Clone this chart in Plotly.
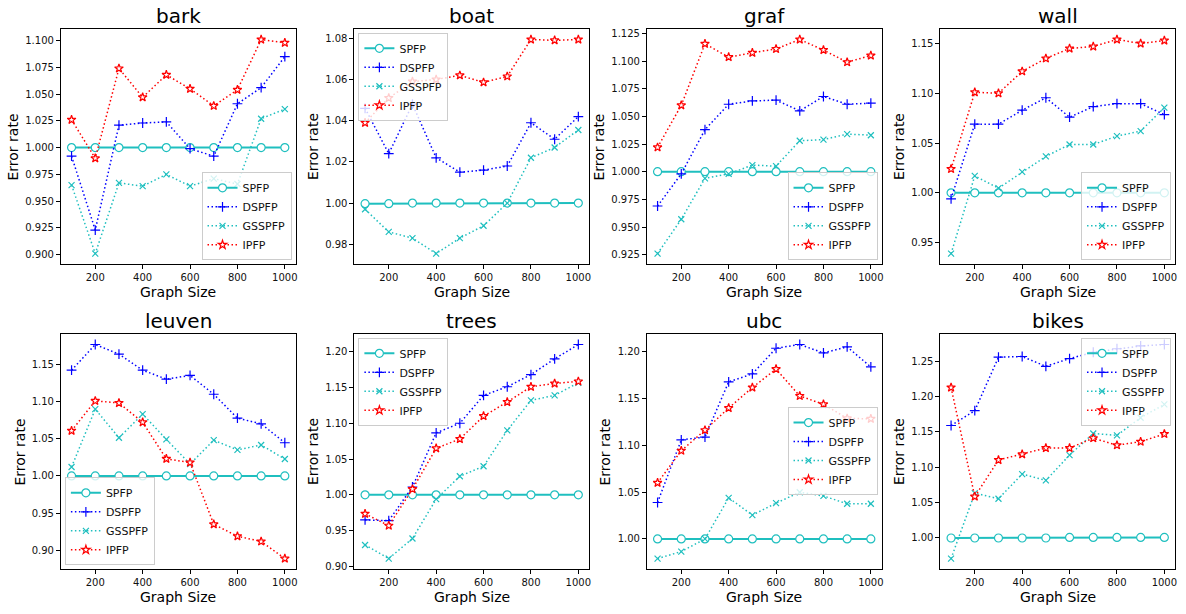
import math
import plotly.graph_objects as go

graph_size = [100, 200, 300, 400, 500, 600, 700, 800, 900, 1000]
methods = ["SPFP", "DSPFP", "GSSPFP", "IPFP"]
datasets = ["bark", "boat", "graf", "wall", "leuven", "trees", "ubc", "bikes"]

bark_spfp = [1.0, 1.0, 1.0, 1.0, 1.0, 1.0, 1.0, 1.0, 1.0, 1.0]
bark_dspfp = [0.992, 0.923, 1.021, 1.023, 1.024, 0.999, 0.992, 1.041, 1.056, 1.085]
bark_gsspfp = [0.965, 0.901, 0.967, 0.964, 0.975, 0.964, 0.971, 0.966, 1.027, 1.036]
bark_ipfp = [1.026, 0.990, 1.074, 1.047, 1.068, 1.055, 1.039, 1.054, 1.101, 1.098]

boat_spfp = [0.9997, 0.9997, 1.0, 1.0, 1.0, 1.0, 1.0, 1.0, 1.0, 1.0]
boat_dspfp = [1.046, 1.024, 1.048, 1.022, 1.015, 1.016, 1.018, 1.039, 1.031, 1.042]
boat_gsspfp = [0.997, 0.986, 0.983, 0.9755, 0.983, 0.989, 1.000, 1.022, 1.027, 1.0355]
boat_ipfp = [1.039, 1.051, 1.059, 1.060, 1.062, 1.0586, 1.0615, 1.0794, 1.079, 1.0794]

graf_spfp = [1.0, 1.0, 1.0, 1.0, 1.0, 1.0, 1.0, 1.0, 1.0, 1.0]
graf_dspfp = [0.969, 0.998, 1.038, 1.061, 1.064, 1.0647, 1.055, 1.068, 1.061, 1.062]
graf_gsspfp = [0.926, 0.957, 0.994, 0.998, 1.006, 1.005, 1.028, 1.029, 1.034, 1.033]
graf_ipfp = [1.022, 1.060, 1.1156, 1.1036, 1.1075, 1.111, 1.1195, 1.110, 1.099, 1.105]

wall_spfp = [1.0, 1.0, 1.0, 1.0, 1.0, 1.0, 1.0, 1.0, 1.0, 1.0]
wall_dspfp = [0.994, 1.069, 1.069, 1.083, 1.0955, 1.076, 1.0866, 1.0896, 1.0896, 1.0786]
wall_gsspfp = [0.939, 1.017, 1.0047, 1.021, 1.0366, 1.0486, 1.0486, 1.057, 1.062, 1.0856]
wall_ipfp = [1.024, 1.101, 1.100, 1.122, 1.135, 1.145, 1.147, 1.154, 1.150, 1.153]

leuven_spfp = [1.0, 1.0, 1.0, 1.0, 1.0, 1.0, 1.0, 1.0, 1.0, 1.0]
leuven_dspfp = [1.142, 1.1765, 1.1636, 1.142, 1.130, 1.135, 1.1097, 1.0776, 1.070, 1.0446]
leuven_gsspfp = [1.012, 1.0897, 1.0513, 1.083, 1.049, 1.016, 1.048, 1.035, 1.0415, 1.0227]
leuven_ipfp = [1.0607, 1.1008, 1.098, 1.072, 1.023, 1.018, 0.935, 0.919, 0.912, 0.889]

trees_spfp = [1.0, 1.0, 1.0, 1.0, 1.0, 1.0, 1.0, 1.0, 1.0, 1.0]
trees_dspfp = [0.965, 0.964, 1.011, 1.0866, 1.100, 1.139, 1.151, 1.168, 1.190, 1.210]
trees_gsspfp = [0.930, 0.911, 0.939, 0.994, 1.026, 1.040, 1.090, 1.132, 1.139, 1.1565]
trees_ipfp = [0.9736, 0.957, 1.008, 1.065, 1.078, 1.110, 1.1297, 1.151, 1.1556, 1.1585]

ubc_spfp = [1.0, 1.0, 1.0, 1.0, 1.0, 1.0, 1.0, 1.0, 1.0, 1.0]
ubc_dspfp = [1.039, 1.106, 1.109, 1.168, 1.1766, 1.204, 1.208, 1.199, 1.2055, 1.184]
ubc_gsspfp = [0.979, 0.9865, 1.000, 1.044, 1.0255, 1.0383, 1.050, 1.046, 1.0376, 1.0376]
ubc_ipfp = [1.060, 1.0944, 1.1164, 1.140, 1.162, 1.1817, 1.153, 1.144, 1.129, 1.1285]

bikes_spfp = [0.9992, 0.9992, 0.9992, 0.9992, 0.9992, 1.0, 1.0, 1.0, 1.0, 1.0]
bikes_dspfp = [1.159, 1.180, 1.256, 1.257, 1.243, 1.254, 1.263, 1.268, 1.272, 1.274]
bikes_gsspfp = [0.970, 1.063, 1.055, 1.090, 1.081, 1.117, 1.1476, 1.145, 1.170, 1.189]
bikes_ipfp = [1.213, 1.058, 1.110, 1.118, 1.127, 1.127, 1.141, 1.131, 1.136, 1.147]

series = {
    "bark": [bark_spfp, bark_dspfp, bark_gsspfp, bark_ipfp],
    "boat": [boat_spfp, boat_dspfp, boat_gsspfp, boat_ipfp],
    "graf": [graf_spfp, graf_dspfp, graf_gsspfp, graf_ipfp],
    "wall": [wall_spfp, wall_dspfp, wall_gsspfp, wall_ipfp],
    "leuven": [leuven_spfp, leuven_dspfp, leuven_gsspfp, leuven_ipfp],
    "trees": [trees_spfp, trees_dspfp, trees_gsspfp, trees_ipfp],
    "ubc": [ubc_spfp, ubc_dspfp, ubc_gsspfp, ubc_ipfp],
    "bikes": [bikes_spfp, bikes_dspfp, bikes_gsspfp, bikes_ipfp],
}
ytick_step = {"bark": 0.025, "boat": 0.02, "graf": 0.025, "wall": 0.05,
              "leuven": 0.05, "trees": 0.05, "ubc": 0.05, "bikes": 0.05}
ytick_fmt = {"bark": ".3f", "boat": ".2f", "graf": ".3f", "wall": ".2f",
             "leuven": ".2f", "trees": ".2f", "ubc": ".2f", "bikes": ".2f"}
# legend corner (x px, y px, xanchor, yanchor) in figure pixels
legend_pos = {
    "bark": (292, 261, "right", "bottom"),
    "boat": (359, 32, "left", "top"),
    "graf": (879, 261, "right", "bottom"),
    "wall": (1173, 261, "right", "bottom"),
    "leuven": (65, 568, "left", "bottom"),
    "trees": (359, 339, "left", "top"),
    "ubc": (879, 453, "right", "middle"),
    "bikes": (1173, 339, "right", "top"),
}

W, H = 1186, 614
CYAN = "#1fbfbf"
BLUE = "#0000ff"
RED = "#ff0000"
FONT = "DejaVu Sans"
TXT = "#111111"

col_left = [61, 355, 648, 942]
col_right = [296, 590, 883, 1177]
row_top = [28, 335]
row_bot = [265, 572]
ytitle_off = {"bark": 48, "boat": 42, "graf": 48, "wall": 42,
              "leuven": 41, "trees": 42, "ubc": 42, "bikes": 42}

styles = [
    dict(mode="lines+markers", line=dict(color=CYAN, width=2),
         marker=dict(symbol="circle", size=8, color="white", line=dict(color=CYAN, width=1.2))),
    dict(mode="lines+markers", line=dict(color=BLUE, width=1.5, dash="1.5px,2.5px"),
         marker=dict(symbol="cross-thin", size=7, color=BLUE, line=dict(color=BLUE, width=1.2))),
    dict(mode="lines+markers", line=dict(color=CYAN, width=1.5, dash="1.5px,2.5px"),
         marker=dict(symbol="x-thin", size=6, color=CYAN, line=dict(color=CYAN, width=1.2))),
    dict(mode="lines+markers", line=dict(color=RED, width=1.5, dash="1.5px,2.5px"),
         marker=dict(symbol="star", size=6.5, color="white", line=dict(color=RED, width=1.2))),
]

fig = go.Figure()
layout = dict(width=W, height=H, margin=dict(l=0, r=0, t=0, b=0),
              paper_bgcolor="white", plot_bgcolor="white",
              font=dict(family=FONT, color=TXT), annotations=[])

for i, name in enumerate(datasets):
    r, c = divmod(i, 4)
    ax = "" if i == 0 else str(i + 1)
    lg = "legend" if i == 0 else f"legend{i + 1}"
    for k, m in enumerate(methods):
        st = styles[k]
        fig.add_trace(go.Scatter(x=graph_size, y=series[name][k], name=m,
                                 xaxis="x" + ax, yaxis="y" + ax, legend=lg,
                                 mode=st["mode"], line=st["line"], marker=st["marker"]))
    vals = [v for s in series[name] for v in s]
    lo, hi = min(vals), max(vals)
    pad = 0.05 * (hi - lo)
    x0, x1 = col_left[c] / W, col_right[c] / W
    y0, y1 = 1 - row_bot[r] / H, 1 - row_top[r] / H
    axis_common = dict(showline=True, mirror=True, linecolor="black", linewidth=1,
                       ticks="outside", ticklen=4, tickcolor="black", showgrid=False,
                       zeroline=False, tickfont=dict(size=10, family=FONT, color=TXT))
    layout["xaxis" + ax] = dict(domain=[x0, x1], range=[55, 1045], tickvals=[200, 400, 600, 800, 1000],
                                anchor="y" + ax, **axis_common)
    step = ytick_step[name]
    t = math.ceil((lo - pad) / step - 1e-9) * step
    tv = []
    while t <= hi + pad + 1e-9:
        tv.append(round(t, 4))
        t += step
    layout["yaxis" + ax] = dict(domain=[y0, y1], range=[lo - pad, hi + pad], tickvals=tv,
                                tickformat=ytick_fmt[name], anchor="x" + ax, **axis_common)
    lx, ly, xa, ya = legend_pos[name]
    layout[lg] = dict(x=lx / W, y=1 - ly / H, xanchor=xa, yanchor=ya, xref="paper", yref="paper",
                      bgcolor="rgba(255,255,255,0.8)", bordercolor="#cccccc", borderwidth=1,
                      font=dict(size=11, family=FONT, color=TXT), itemwidth=30,
                      tracegroupgap=0)
    cx = (col_left[c] + col_right[c]) / 2 / W
    layout["annotations"].append(dict(text=name, x=cx, y=1 - (row_top[r] - 13) / H, xref="paper", yref="paper",
                                      showarrow=False, font=dict(size=20, family=FONT, color="black"),
                                      xanchor="center", yanchor="middle"))
    layout["annotations"].append(dict(text="Graph Size", x=cx, y=1 - (row_bot[r] + 28) / H, xref="paper",
                                      yref="paper", showarrow=False, font=dict(size=14, family=FONT, color="black"),
                                      xanchor="center", yanchor="middle"))
    layout["annotations"].append(dict(text="Error rate", x=(col_left[c] - ytitle_off[name]) / W,
                                      y=1 - (row_top[r] + row_bot[r]) / 2 / H, xref="paper", yref="paper",
                                      showarrow=False, textangle=-90,
                                      font=dict(size=14, family=FONT, color="black"),
                                      xanchor="center", yanchor="middle"))

fig.update_layout(**layout)
fig.write_html("out.html", config={"displayModeBar": False},
               post_script="document.body.style.margin='0';document.body.style.padding='0';")
